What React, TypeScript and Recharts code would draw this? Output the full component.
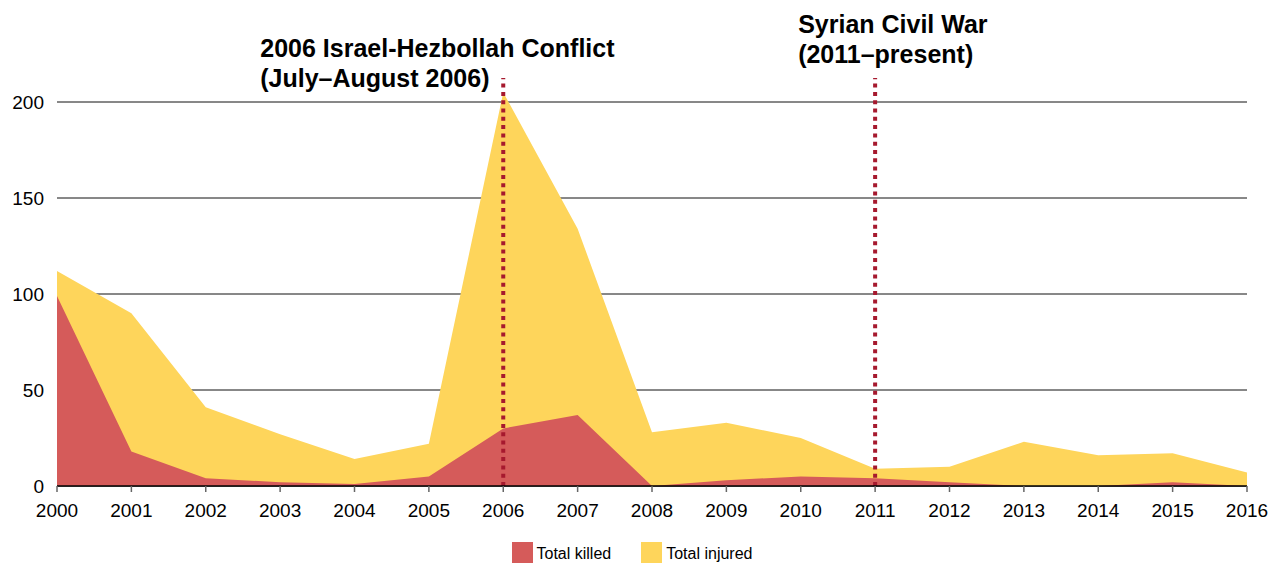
import { Area, AreaChart, CartesianGrid, Legend, ReferenceLine, XAxis, YAxis } from 'recharts';

const years = [2000, 2001, 2002, 2003, 2004, 2005, 2006, 2007, 2008, 2009, 2010, 2011, 2012, 2013, 2014, 2015, 2016];
const totalKilled = [99, 18, 4, 2, 1, 5, 30, 37, 0, 3, 5, 4, 2, 0, 0, 2, 0];
const totalInjured = [112, 90, 41, 27, 14, 22, 205, 134, 28, 33, 25, 9, 10, 23, 16, 17, 7];
const yTicks = [0, 50, 100, 150, 200];

const eventYears = [2006, 2011];
const eventLabels = [
  ['2006 Israel-Hezbollah Conflict', '(July\u2013August 2006)'],
  ['Syrian Civil War', '(2011\u2013present)'],
];

const seriesNames = ['Total killed', 'Total injured'];
const RED = '#D55B5A';
const YELLOW = '#FED55B';
const LINE_RED = '#A6192E';
const FONT = '"Liberation Sans", Arial, Helvetica, sans-serif';

const data = years.map((year, i) => ({
  year,
  killed: totalKilled[i],
  injured: totalInjured[i],
}));

// label placement per event line (offset from the line / plot top)
const labelPos = [
  { dx: -243, dy: -21 },
  { dx: -77, dy: -45 },
];

function EventLabel({ viewBox, lines, pos }: any) {
  const x = viewBox.x + pos.dx;
  const y = viewBox.y + pos.dy;
  return (
    <text x={x} y={y} fontFamily={FONT} fontSize={25} fontWeight="bold" fill="#000">
      <tspan x={x} y={y}>{lines[0]}</tspan>
      <tspan x={x} y={y + 30}>{lines[1]}</tspan>
    </text>
  );
}

function ChartLegend() {
  const colors = [RED, YELLOW];
  return (
    <div style={{ display: 'flex', justifyContent: 'center', fontFamily: FONT, fontSize: 16, color: '#000', marginLeft: -6 }}>
      {seriesNames.map((name, i) => (
        <div key={name} style={{ display: 'flex', alignItems: 'flex-end', marginRight: i === 0 ? 30 : 0 }}>
          <span style={{ width: 21, height: 21, background: colors[i], display: 'inline-block', marginRight: 4 }} />
          <span style={{ lineHeight: '16px', marginBottom: 1 }}>{name}</span>
        </div>
      ))}
    </div>
  );
}

export default function App() {
  return (
    <div style={{ position: 'absolute', left: 0, top: 0, width: 1270, height: 563, background: '#fff' }}>
      <AreaChart width={1270} height={563} data={data} margin={{ top: 78, right: 23, left: 0, bottom: 0 }}>
        <CartesianGrid vertical={false} stroke="#111" strokeWidth={1} horizontalValues={yTicks} />
        <XAxis
          dataKey="year"
          type="number"
          domain={[2000, 2016]}
          ticks={years}
          interval={0}
          height={77}
          tickSize={6}
          tickMargin={12}
          axisLine={{ stroke: '#000', strokeWidth: 1.5 }}
          tickLine={{ stroke: '#666', strokeWidth: 1.5 }}
          tick={{ fill: '#000', fontSize: 19, fontFamily: FONT }}
        />
        <YAxis
          type="number"
          domain={[0, 212.5]}
          ticks={yTicks}
          width={57}
          tickSize={0}
          tickMargin={13}
          axisLine={false}
          tickLine={false}
          tick={{ fill: '#000', fontSize: 19, fontFamily: FONT }}
        />
        <Area
          type="linear"
          dataKey="injured"
          name={seriesNames[1]}
          stroke="none"
          fill={YELLOW}
          fillOpacity={1}
          isAnimationActive={false}
        />
        <Area
          type="linear"
          dataKey="killed"
          name={seriesNames[0]}
          stroke="none"
          fill={RED}
          fillOpacity={1}
          isAnimationActive={false}
        />
        {eventYears.map((yr, i) => (
          <ReferenceLine
            key={yr}
            x={yr}
            stroke={LINE_RED}
            strokeWidth={4}
            strokeDasharray="4 4.3"
            label={(props: any) => <EventLabel {...props} lines={eventLabels[i]} pos={labelPos[i]} />}
          />
        ))}
        <Legend
          layout="horizontal"
          verticalAlign="middle"
          align="center"
          content={() => <ChartLegend />}
          wrapperStyle={{ top: 542, left: 0, width: 1270 }}
        />
      </AreaChart>
    </div>
  );
}
